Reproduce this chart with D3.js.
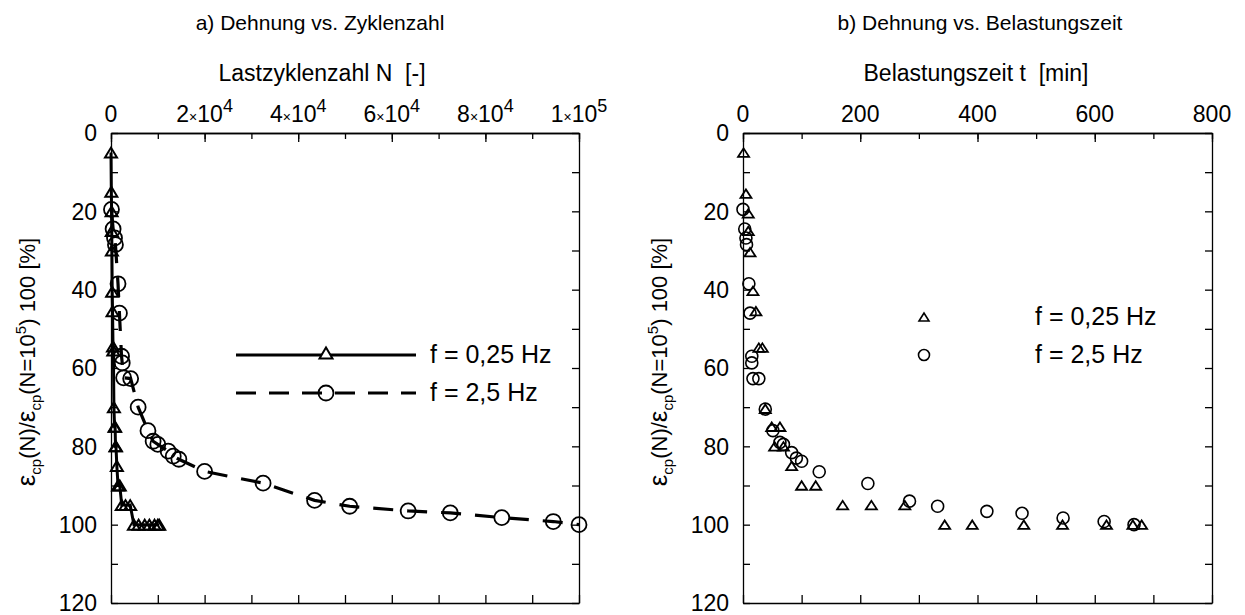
<!DOCTYPE html>
<meta charset="utf-8">
<script src="https://d3js.org/d3.v7.min.js"></script>
<style>
body { margin: 0; background: #fff; }
text { font-family: "Liberation Sans", Arial, sans-serif; fill: #000; }
</style>
<svg id="chart" width="1245" height="615"></svg>
<script>

// a) strain vs. number of cycles
var leftTriN = [0, 70, 130, 160, 190, 260, 330, 430, 510, 620, 760, 880, 960, 1060, 1250, 1500, 1870, 2300, 3100, 4100, 4900, 5900, 7200, 8200, 9300, 10000, 10300];
var leftTriE = [5, 15, 20, 25, 30, 40.5, 45.5, 54.5, 55.5, 70, 75, 75, 80, 80, 85, 90, 90, 95, 95, 95, 100, 100, 100, 100, 100, 100, 100];
var leftCirN = [100, 450, 750, 950, 1500, 1800, 2250, 2400, 2700, 4200, 5800, 7900, 9000, 10000, 12200, 13300, 14500, 20000, 32500, 43500, 51000, 63500, 72500, 83500, 94500, 100000];
var leftCirE = [19.5, 24.5, 26.8, 28.5, 38.5, 46, 57, 58.7, 62.5, 62.7, 70, 76, 78.7, 79.5, 81.2, 82.5, 83.3, 86.4, 89.4, 93.8, 95.3, 96.5, 97, 98.2, 99.2, 100];

// b) strain vs. loading time [min]
var rightTriT = [1, 5, 9, 9, 12, 17, 22, 27, 33, 38, 49, 63, 54, 69, 83, 100, 124, 170, 219, 276, 344, 391, 479, 545, 620, 665, 680];
var rightTriE = [5, 15.5, 20.5, 25, 30.4, 40.3, 45.5, 54.8, 54.8, 70.4, 75, 75, 80, 80, 85, 90, 90, 95, 95, 95, 100, 100, 100, 100, 100, 100, 100];
var rightCirT = [0, 3, 5, 6, 10, 12, 15, 15, 17, 27, 38, 51, 63, 69, 83, 91, 100, 130, 213, 284, 332, 416, 476, 546, 616, 667];
var rightCirE = [19.5, 24.5, 26.8, 28.5, 38.5, 46, 57, 58.7, 62.7, 62.7, 70.5, 76, 79, 79.5, 81.6, 83, 83.8, 86.5, 89.5, 94, 95.3, 96.6, 97.1, 98.3, 99.2, 100];

var leftXTicks = [0, 20000, 40000, 60000, 80000, 100000];
var leftXLabels = [["0"], ["2", "4"], ["4", "4"], ["6", "4"], ["8", "4"], ["1", "5"]];
var rightXTicks = [0, 200, 400, 600, 800];
var yTicks = [0, 20, 40, 60, 80, 100, 120];
var legendLabels = ["f = 0,25 Hz", "f = 2,5 Hz"];

var svg = d3.select("#chart");

var yScale = d3.scaleLinear().domain([0, 120]).range([133, 603]);
var xLeft = d3.scaleLinear().domain([0, 100000]).range([111, 579]);
var xRight = d3.scaleLinear().domain([0, 800]).range([743, 1212]);

var tickFont = "23px";

function tri(x, y, w, h) {
  return "M" + (x - w / 2) + "," + (y + h / 2) + "L" + x + "," + (y - h / 2) + "L" + (x + w / 2) + "," + (y + h / 2) + "Z";
}

// frame + ticks of one panel
function frame(x, majorX, minorStep) {
  var g = svg.append("g");
  var x0 = x.range()[0], x1 = x.range()[1];
  var minor = d3.range(x.domain()[0], x.domain()[1] + 1e-9, minorStep);
  var yMinor = d3.range(0, 121, 10);

  g.append("g").attr("transform", "translate(0,133)")
    .call(d3.axisTop(x).tickValues(minor).tickSizeInner(-6).tickSizeOuter(0).tickFormat(""));
  g.append("g").attr("transform", "translate(0,133)")
    .call(d3.axisTop(x).tickValues(majorX).tickSizeInner(-9).tickSizeOuter(0).tickFormat(""));
  g.append("g").attr("transform", "translate(0,603)")
    .call(d3.axisBottom(x).tickValues(minor).tickSizeInner(-8).tickSizeOuter(0).tickFormat(""));
  g.append("g").attr("transform", "translate(" + x0 + ",0)")
    .call(d3.axisLeft(yScale).tickValues(yMinor).tickSizeInner(-7).tickSizeOuter(0).tickFormat(""));
  g.append("g").attr("transform", "translate(" + x1 + ",0)")
    .call(d3.axisRight(yScale).tickValues(yMinor).tickSizeInner(-7).tickSizeOuter(0).tickFormat(""));
  g.selectAll("path.domain").attr("stroke", "#000").attr("stroke-width", 1.3);
  g.selectAll(".tick line").attr("stroke", "#000").attr("stroke-width", 1.3);

  // y tick labels
  g.selectAll("text.ylab").data(yTicks).enter().append("text")
    .attr("class", "ylab")
    .attr("x", x0 - 14)
    .attr("y", d => yScale(d))
    .attr("dy", "0.36em")
    .attr("text-anchor", "end")
    .style("font-size", tickFont)
    .text(d => d);
  return g;
}

function yLabel(cx) {
  var t = svg.append("text")
    .attr("transform", "translate(" + cx + ",362) rotate(-90)")
    .attr("text-anchor", "middle")
    .style("font-size", "22px");
  t.append("tspan").style("font-size", "26px").text("\u03b5");
  t.append("tspan").attr("dy", 6).style("font-size", "15px").text("cp");
  t.append("tspan").attr("dy", -6).text("(N)/");
  t.append("tspan").style("font-size", "26px").text("\u03b5");
  t.append("tspan").attr("dy", 6).style("font-size", "15px").text("cp");
  t.append("tspan").attr("dy", -6).text("(N=10");
  t.append("tspan").attr("dy", -9).style("font-size", "15px").text("5");
  t.append("tspan").attr("dy", 9).text(") 100 [%]");
}

// ---------- panel a ----------
frame(xLeft, leftXTicks, 10000);

svg.append("text").attr("x", 320).attr("y", 30).attr("text-anchor", "middle")
  .style("font-size", "21px").text("a) Dehnung vs. Zyklenzahl");
svg.append("text").attr("x", 322).attr("y", 81).attr("text-anchor", "middle")
  .style("font-size", "23px").text("Lastzyklenzahl N\u00a0 [-]");

leftXTicks.forEach(function(v, i) {
  var lab = leftXLabels[i];
  var t = svg.append("text").attr("x", xLeft(v)).attr("y", 122)
    .attr("text-anchor", "middle").style("font-size", tickFont);
  if (lab.length == 1) { t.text(lab[0]); return; }
  t.append("tspan").text(lab[0]);
  t.append("tspan").style("font-size", "14px").text("\u00d7");
  t.append("tspan").text("10");
  t.append("tspan").attr("dy", -10).style("font-size", "18px").text(lab[1]);
});
yLabel(35);

var triLeft = leftTriN.map((n, i) => [xLeft(n), yScale(leftTriE[i])]);
var cirLeft = leftCirN.map((n, i) => [xLeft(n), yScale(leftCirE[i])]);

svg.append("path").attr("d", d3.line()(triLeft))
  .attr("fill", "none").attr("stroke", "#000").attr("stroke-width", 3);
svg.append("path").attr("d", d3.line()(cirLeft))
  .attr("fill", "none").attr("stroke", "#000").attr("stroke-width", 3.2)
  .attr("stroke-dasharray", "20,14");

svg.selectAll("path.triL").data(triLeft).enter().append("path")
  .attr("class", "triL")
  .attr("d", d => tri(d[0], d[1], 12, 10))
  .attr("fill", "none").attr("stroke", "#000").attr("stroke-width", 2);
svg.selectAll("circle.cirL").data(cirLeft).enter().append("circle")
  .attr("class", "cirL")
  .attr("cx", d => d[0]).attr("cy", d => d[1]).attr("r", 7.5)
  .attr("fill", "none").attr("stroke", "#000").attr("stroke-width", 1.8);

// legend a
svg.append("line").attr("x1", 236).attr("x2", 416).attr("y1", 355).attr("y2", 355)
  .attr("stroke", "#000").attr("stroke-width", 3);
svg.append("path").attr("d", tri(326, 353, 13, 11))
  .attr("fill", "#fff").attr("stroke", "#000").attr("stroke-width", 2);
svg.append("line").attr("x1", 236).attr("x2", 416).attr("y1", 393).attr("y2", 393)
  .attr("stroke", "#000").attr("stroke-width", 3.2).attr("stroke-dasharray", "20,13");
svg.append("circle").attr("cx", 326).attr("cy", 393).attr("r", 7.5)
  .attr("fill", "none").attr("stroke", "#000").attr("stroke-width", 1.8);
svg.append("text").attr("x", 430).attr("y", 363).style("font-size", "25px").text(legendLabels[0]);
svg.append("text").attr("x", 430).attr("y", 401).style("font-size", "25px").text(legendLabels[1]);

// ---------- panel b ----------
frame(xRight, rightXTicks, 100);

svg.append("text").attr("x", 980).attr("y", 30).attr("text-anchor", "middle")
  .style("font-size", "21px").text("b) Dehnung vs. Belastungszeit");
svg.append("text").attr("x", 976).attr("y", 81).attr("text-anchor", "middle")
  .style("font-size", "23px").text("Belastungszeit t\u00a0 [min]");
svg.selectAll("text.xr").data(rightXTicks).enter().append("text")
  .attr("class", "xr")
  .attr("x", d => xRight(d)).attr("y", 122)
  .attr("text-anchor", "middle").style("font-size", tickFont)
  .text(d => d);
yLabel(667);

svg.selectAll("path.triR").data(rightTriT).enter().append("path")
  .attr("class", "triR")
  .attr("d", (d, i) => tri(xRight(d), yScale(rightTriE[i]), 11, 8.5))
  .attr("fill", "none").attr("stroke", "#000").attr("stroke-width", 1.8);
svg.selectAll("circle.cirR").data(rightCirT).enter().append("circle")
  .attr("class", "cirR")
  .attr("cx", d => xRight(d)).attr("cy", (d, i) => yScale(rightCirE[i])).attr("r", 6)
  .attr("fill", "none").attr("stroke", "#000").attr("stroke-width", 1.6);

// legend b
svg.append("path").attr("d", tri(924, 317, 10, 8))
  .attr("fill", "none").attr("stroke", "#000").attr("stroke-width", 1.6);
svg.append("circle").attr("cx", 924).attr("cy", 355).attr("r", 5.5)
  .attr("fill", "none").attr("stroke", "#000").attr("stroke-width", 1.6);
svg.append("text").attr("x", 1035).attr("y", 325).style("font-size", "25px").text(legendLabels[0]);
svg.append("text").attr("x", 1035).attr("y", 363).style("font-size", "25px").text(legendLabels[1]);

</script>
